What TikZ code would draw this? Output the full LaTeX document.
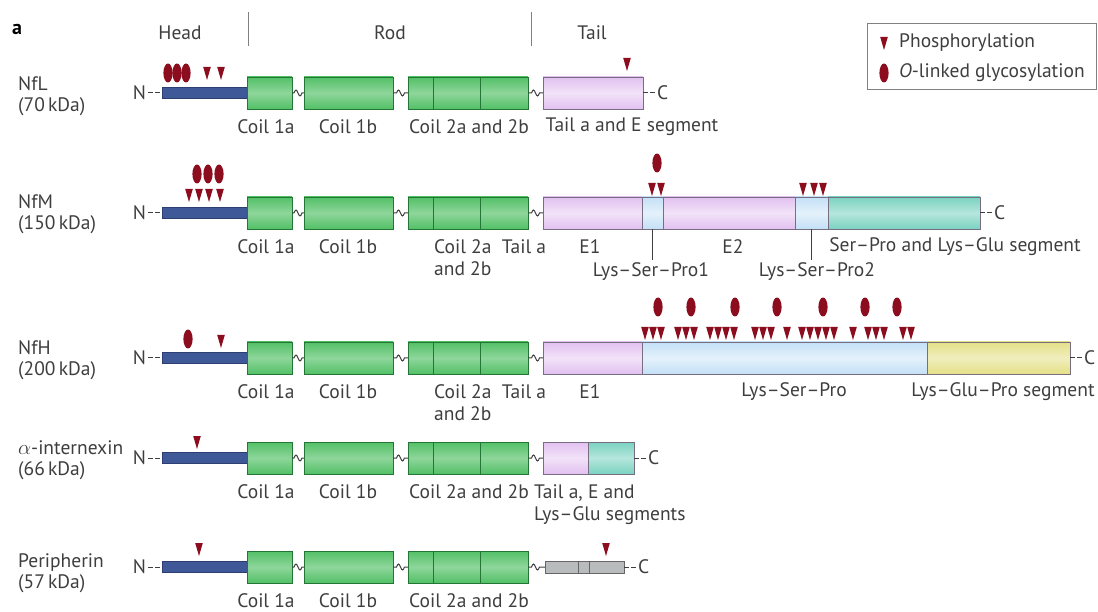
\documentclass[tikz,border=0pt]{standalone}
\usepackage{fontspec}
\setmainfont{PT Sans}
\usetikzlibrary{positioning, calc}
\definecolor{markred}{RGB}{140, 14, 30}
\definecolor{barblue}{RGB}{62, 88, 152}
\definecolor{barline}{RGB}{45, 62, 115}
\definecolor{coilgreen}{RGB}{82, 192, 102}
\definecolor{coilline}{RGB}{36, 118, 54}
\definecolor{tailpink}{RGB}{226, 192, 240}
\definecolor{lspblue}{RGB}{196, 224, 246}
\definecolor{segteal}{RGB}{122, 210, 192}
\definecolor{segyellow}{RGB}{228, 224, 136}
\definecolor{tailgrey}{RGB}{184, 188, 188}
\definecolor{segline}{RGB}{120, 110, 130}
\definecolor{txtgray}{RGB}{62, 62, 62}

% modification marks, (x, top) in pixels
\newcommand{\phosmark}[2]{\fill[markred] (#1-3.8,#2) -- (#1+3.8,#2) -- (#1,#2+13) -- cycle;}
\newcommand{\glycmark}[2]{\fill[markred] (#1,#2) ellipse [x radius=4.6, y radius=9.5];}
% wavy linker between two domains
\newcommand{\linker}[3]{\draw[wave] (#1.east) -- ++(#3,0) sin ++(2,-3) cos ++(2,3) sin ++(2,3) cos ++(2,-3) -- (#2.west);}

\begin{document}
\begin{tikzpicture}[
    x=1pt, y=-1pt,
    lbl/.style={font=\fontsize{19.5}{21.5}\selectfont, text=txtgray, inner sep=0pt},
    rowname/.style={lbl, anchor=west, align=left},
    box/.style={draw, inner sep=0pt, outer sep=0pt, line width=0.8pt, minimum height=32},
    headbar/.style={draw=barline, fill=barblue, inner sep=0pt, outer sep=0pt,
                    minimum width=85, minimum height=11},
    coil/.style={box, draw=coilline, top color=coilgreen, bottom color=coilgreen,
                 middle color=coilgreen!65!white},
    pinkseg/.style={box, draw=segline, top color=tailpink, bottom color=tailpink,
                    middle color=tailpink!45!white},
    blueseg/.style={box, draw=segline, top color=lspblue, bottom color=lspblue,
                    middle color=lspblue!45!white},
    tealseg/.style={box, draw=segline, top color=segteal, bottom color=segteal,
                    middle color=segteal!55!white},
    yellowseg/.style={box, draw=segline, top color=segyellow, bottom color=segyellow,
                      middle color=segyellow!55!white},
    ends/.style={txtgray, line width=1pt, dash pattern=on 4.5pt off 2.5pt},
    wave/.style={txtgray, line width=1pt},
    split/.style={line width=0.8pt},
    leader/.style={txtgray, line width=0.8pt}
  ]
    \useasboundingbox (0,0) rectangle (1098,612);

    % header
    \node[font=\fontsize{20}{22}\selectfont\bfseries, inner sep=0pt] (panel) at (17,29) {a};
    \node[lbl] (hhead) at (180,33) {Head};
    \node[lbl] (hrod) at (390,33) {Rod};
    \node[lbl] (htail) at (592,33) {Tail};
    \draw[gray, line width=0.9pt] (248,12) -- (248,46);
    \draw[gray, line width=0.9pt] (531,12) -- (531,46);

    % legend
    \draw[gray, line width=1pt] (867,24) rectangle (1096,90);
    \phosmark{884}{37}
    \glycmark{884}{73}
    \node[lbl, anchor=west] (lphos) at (899,43) {Phosphorylation};
    \node[lbl, anchor=west] (lglyc) at (899,73) {\textit{O}-linked glycosylation};

    % names
    \node[rowname] (nfl-name) at (18,96) {NfL\\(70\,kDa)};
    \node[rowname] (nfm-name) at (18,214) {NfM\\(150\,kDa)};
    \node[rowname] (nfh-name) at (18,360) {NfH\\(200\,kDa)};
    \node[rowname] (ina-name) at (18,460) {$\alpha$-internexin\\(66\,kDa)};
    \node[rowname] (per-name) at (18,573) {Peripherin\\(57\,kDa)};

    % tails
    \node[pinkseg, minimum width=100, anchor=west] (nfl-tail) at (543,93) {};

    \node[pinkseg, minimum width=99, anchor=west] (nfm-tail) at (543,213) {};
    \node[blueseg, minimum width=21, anchor=west] (nfm-lsp1) at (nfm-tail.east) {};
    \node[pinkseg, minimum width=132, anchor=west] (nfm-e2) at (nfm-lsp1.east) {};
    \node[blueseg, minimum width=33, anchor=west] (nfm-lsp2) at (nfm-e2.east) {};
    \node[tealseg, minimum width=152, anchor=west] (nfm-sp) at (nfm-lsp2.east) {};

    \node[pinkseg, minimum width=99, anchor=west] (nfh-tail) at (543,358) {};
    \node[blueseg, minimum width=285, anchor=west] (nfh-lsp) at (nfh-tail.east) {};
    \node[yellowseg, minimum width=143, anchor=west] (nfh-kep) at (nfh-lsp.east) {};

    \node[pinkseg, minimum width=45, anchor=west] (ina-tail) at (543,458) {};
    \node[tealseg, minimum width=46, anchor=west] (ina-ke) at (ina-tail.east) {};

    \node[box, draw=gray!80!black, fill=tailgrey, minimum width=79, minimum height=12,
          anchor=west] (per-tail) at (545,567) {};
    \draw[split, gray!80!black] ($(per-tail.north west)+(33,0)$) -- ($(per-tail.south west)+(33,0)$);
    \draw[split, gray!80!black] ($(per-tail.north west)+(44,0)$) -- ($(per-tail.south west)+(44,0)$);

    % head and rod, the same in every row
    \foreach \r/\y in {nfl/93, nfm/213, nfh/358, ina/458, per/567} {
      \node[headbar, anchor=west] (\r-head) at (162,\y) {};
      \node[coil, minimum width=45, anchor=west] (\r-c1a) at (247,\y) {};
      \node[coil, minimum width=89, anchor=west] (\r-c1b) at (304,\y) {};
      \node[coil, minimum width=120, anchor=west] (\r-c2) at (408,\y) {};
      \draw[split, coilline] ($(\r-c2.north west)+(25,0)$) -- ($(\r-c2.south west)+(25,0)$);
      \draw[split, coilline] ($(\r-c2.north west)+(72,0)$) -- ($(\r-c2.south west)+(72,0)$);
      \node[lbl, outer sep=2pt, left=14pt of \r-head] (\r-n) {N};
      \draw[ends] (\r-n) -- (\r-head);
      \linker{\r-c1a}{\r-c1b}{2}
      \linker{\r-c1b}{\r-c2}{3.5}
      \linker{\r-c2}{\r-tail}{3.5}
    }

    % C ends
    \node[lbl, outer sep=2pt, right=12pt of nfl-tail] (nfl-c) {C};
    \node[lbl, outer sep=2pt, right=12pt of nfm-sp] (nfm-c) {C};
    \node[lbl, outer sep=2pt, right=12pt of nfh-kep] (nfh-c) {C};
    \node[lbl, outer sep=2pt, right=12pt of ina-ke] (ina-c) {C};
    \node[lbl, outer sep=2pt, right=12pt of per-tail] (per-c) {C};
    \draw[ends] (nfl-tail) -- (nfl-c);
    \draw[ends] (nfm-sp) -- (nfm-c);
    \draw[ends] (nfh-kep) -- (nfh-c);
    \draw[ends] (ina-ke) -- (ina-c);
    \draw[ends] (per-tail) -- (per-c);

    % domain labels
    \foreach \r/\y in {nfl/127, ina/492, per/601} {
      \node[lbl] (\r-l1a) at (266,\y) {Coil 1a};
      \node[lbl] (\r-l1b) at (348,\y) {Coil 1b};
      \node[lbl] (\r-l2) at (469,\y) {Coil 2a and 2b};
    }
    \foreach \r/\y in {nfm/247, nfh/392} {
      \node[lbl] (\r-l1a) at (266,\y) {Coil 1a};
      \node[lbl] (\r-l1b) at (348,\y) {Coil 1b};
      \node[lbl, align=left, anchor=north west] (\r-l2) at (434,\y-7.5) {Coil 2a\\and 2b};
      \node[lbl] (\r-la) at (524,\y) {Tail a};
      \node[lbl] (\r-le1) at (590,\y) {E1};
    }
    \node[lbl] (nfl-lt) at (632,127) {Tail a and E segment};
    \node[lbl] (nfm-le2) at (733,247) {E2};
    \node[lbl] (nfm-lsp) at (955,247) {Ser–Pro and Lys–Glu segment};
    \node[lbl, outer sep=3pt] (nfm-l1) at (651,272) {Lys–Ser–Pro1};
    \node[lbl, outer sep=3pt] (nfm-l2) at (817,272) {Lys–Ser–Pro2};
    \draw[leader] (nfm-lsp1.south) -- (nfm-lsp1.south |- nfm-l1.north);
    \draw[leader] (nfm-lsp2.south) -- (nfm-lsp2.south |- nfm-l2.north);
    \node[lbl] (nfh-llsp) at (794,392) {Lys–Ser–Pro};
    \node[lbl] (nfh-lkep) at (1003,392) {Lys–Glu–Pro segment};
    \node[lbl, align=left, anchor=north west] (ina-lt) at (534,484.5) {Tail a, E and\\Lys–Glu segments};

    % phosphorylation and glycosylation sites
    \foreach \x in {168, 177, 186} {\glycmark{\x}{73}}
    \foreach \x in {207, 221} {\phosmark{\x}{67}}
    \phosmark{627}{58}

    \foreach \x in {197, 208, 219} {\glycmark{\x}{174}}
    \foreach \x in {189, 199, 209, 220} {\phosmark{\x}{189}}
    \glycmark{657}{163}
    \foreach \x in {652, 661, 803, 814, 823} {\phosmark{\x}{183}}

    \glycmark{188}{339}
    \phosmark{221}{335}
    \foreach \x in {658, 691, 735, 777, 823, 865, 897} {\glycmark{\x}{307}}
    \foreach \x in {645, 653, 661, 678, 686, 694, 710, 718, 726, 734, 755, 763, 771,
                    787, 802, 810, 818, 826, 834, 853, 868, 876, 884, 903, 911} {\phosmark{\x}{327}}

    \phosmark{197}{436}
    \phosmark{199}{543}
    \phosmark{606}{543}
  \end{tikzpicture}
\end{document}
